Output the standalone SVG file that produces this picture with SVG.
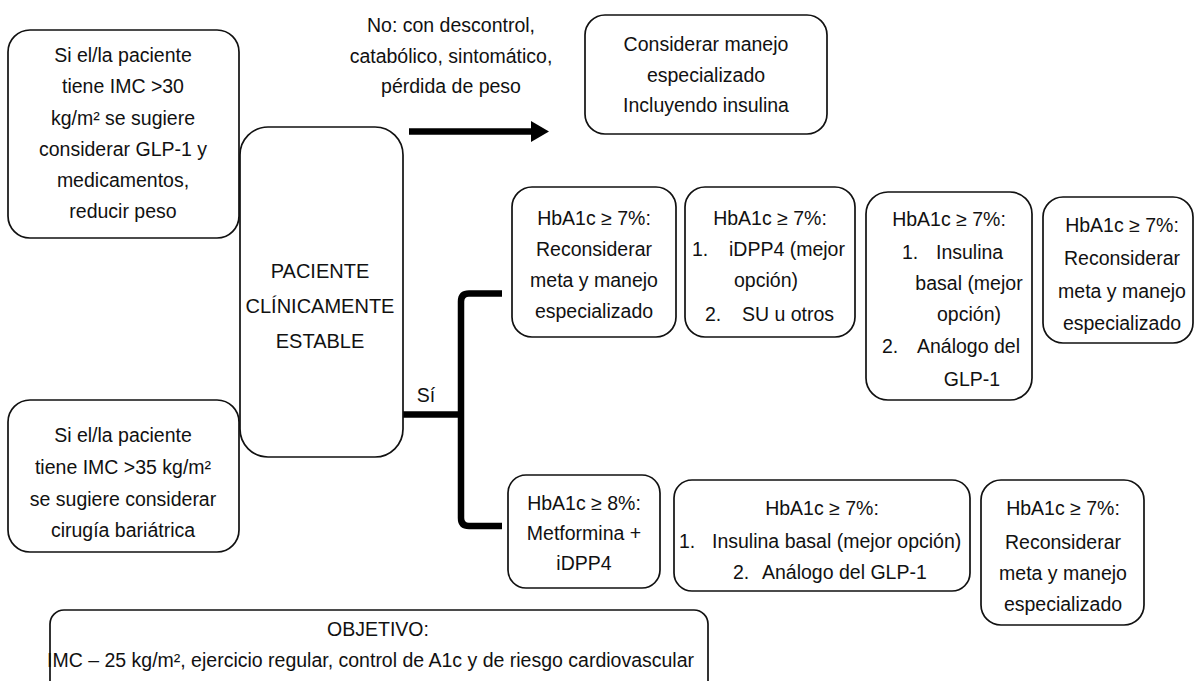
<svg xmlns="http://www.w3.org/2000/svg" width="1196" height="681" viewBox="0 0 1196 681">
<style>
.box{fill:#fff;stroke:#111;stroke-width:1.7}
text{font-family:"Liberation Sans",Arial,sans-serif;font-size:19.5px;fill:#111}
.c{text-anchor:middle}
.s{text-anchor:start}
.con{fill:none;stroke:#000;stroke-width:6.5}
</style>
<rect width="1196" height="681" fill="#fff"/>

<g id="connectors">
<path class="con" d="M409 131.5 H533"/>
<polygon points="531,121 549,131.5 531,142" fill="#000"/>
<path class="con" d="M403 414.5 H461"/>
<path class="con" d="M502 293.5 H469 Q461 293.5 461 301.5 V518 Q461 526 469 526 H502"/>
</g>

<g id="label-no">
<text class="c" x="451" y="32">No: con descontrol,</text>
<text class="c" x="451" y="63">catabólico, sintomático,</text>
<text class="c" x="451" y="93">pérdida de peso</text>
</g>
<g id="label-si">
<text class="c" x="426" y="402">Sí</text>
</g>

<g id="n-imc30">
<rect class="box" x="8" y="30" width="231" height="208" rx="22"/>
<text class="c" x="123" y="62">Si el/la paciente</text>
<text class="c" x="123" y="93">tiene IMC &gt;30</text>
<text class="c" x="123" y="124.5">kg/m² se sugiere</text>
<text class="c" x="123" y="155.5">considerar GLP-1 y</text>
<text class="c" x="123" y="187">medicamentos,</text>
<text class="c" x="123" y="218">reducir peso</text>
</g>

<g id="n-imc35">
<rect class="box" x="8" y="400" width="231" height="152" rx="22"/>
<text class="c" x="123" y="442">Si el/la paciente</text>
<text class="c" x="123" y="474">tiene IMC &gt;35 kg/m²</text>
<text class="c" x="123" y="505.5">se sugiere considerar</text>
<text class="c" x="123" y="537">cirugía bariátrica</text>
</g>

<g id="n-paciente">
<rect class="box" x="240" y="127" width="163" height="330" rx="28"/>
<text class="c" x="320" y="278" style="font-size:20px">PACIENTE</text>
<text class="c" x="320" y="313" style="font-size:20px">CLÍNICAMENTE</text>
<text class="c" x="320" y="348" style="font-size:20px">ESTABLE</text>
</g>

<g id="n-considerar">
<rect class="box" x="585" y="15" width="242" height="119" rx="20"/>
<text class="c" x="706" y="51">Considerar manejo</text>
<text class="c" x="706" y="82">especializado</text>
<text class="c" x="706" y="112">Incluyendo insulina</text>
</g>

<g id="n-a1">
<rect class="box" x="512" y="187" width="164" height="150" rx="20"/>
<text class="c" x="594" y="225">HbA1c ≥ 7%:</text>
<text class="c" x="594" y="256">Reconsiderar</text>
<text class="c" x="594" y="287">meta y manejo</text>
<text class="c" x="594" y="318">especializado</text>
</g>

<g id="n-a2">
<rect class="box" x="685" y="187" width="170" height="150" rx="20"/>
<text class="c" x="770" y="225">HbA1c ≥ 7%:</text>
<text class="s" x="692" y="256">1.</text>
<text class="s" x="729" y="256">iDPP4 (mejor</text>
<text class="c" x="766" y="287">opción)</text>
<text class="s" x="705" y="321">2.</text>
<text class="s" x="742" y="321">SU u otros</text>
</g>

<g id="n-a3">
<rect class="box" x="866" y="192" width="166" height="208" rx="22"/>
<text class="c" x="949" y="226">HbA1c ≥ 7%:</text>
<text class="s" x="902" y="259">1.</text>
<text class="s" x="936" y="259">Insulina</text>
<text class="c" x="969" y="290">basal (mejor</text>
<text class="c" x="969" y="321">opción)</text>
<text class="s" x="882" y="353">2.</text>
<text class="s" x="917" y="353">Análogo del</text>
<text class="c" x="972" y="386">GLP-1</text>
</g>

<g id="n-a4">
<rect class="box" x="1043" y="197" width="150" height="146" rx="20"/>
<text class="c" x="1122" y="232">HbA1c ≥ 7%:</text>
<text class="c" x="1122" y="265">Reconsiderar</text>
<text class="c" x="1122" y="298">meta y manejo</text>
<text class="c" x="1122" y="330">especializado</text>
</g>

<g id="n-b1">
<rect class="box" x="508" y="475" width="152" height="113" rx="18"/>
<text class="c" x="584" y="510">HbA1c ≥ 8%:</text>
<text class="c" x="584" y="540">Metformina +</text>
<text class="c" x="584" y="570">iDPP4</text>
</g>

<g id="n-b2">
<rect class="box" x="674" y="480" width="296" height="111" rx="18"/>
<text class="c" x="822" y="515">HbA1c ≥ 7%:</text>
<text class="s" x="679" y="548">1.</text>
<text class="s" x="712" y="548">Insulina basal (mejor opción)</text>
<text class="s" x="733" y="579">2.</text>
<text class="s" x="762" y="579">Análogo del GLP-1</text>
</g>

<g id="n-b3">
<rect class="box" x="981" y="480" width="163" height="145" rx="20"/>
<text class="c" x="1063" y="515">HbA1c ≥ 7%:</text>
<text class="c" x="1063" y="549">Reconsiderar</text>
<text class="c" x="1063" y="580">meta y manejo</text>
<text class="c" x="1063" y="611">especializado</text>
</g>

<g id="n-objetivo">
<rect class="box" x="50" y="610" width="658" height="90" rx="14"/>
<text class="c" x="378" y="636">OBJETIVO:</text>
<text class="s" x="47" y="667">IMC – 25 kg/m², ejercicio regular, control de A1c y de riesgo cardiovascular</text>
</g>
</svg>
